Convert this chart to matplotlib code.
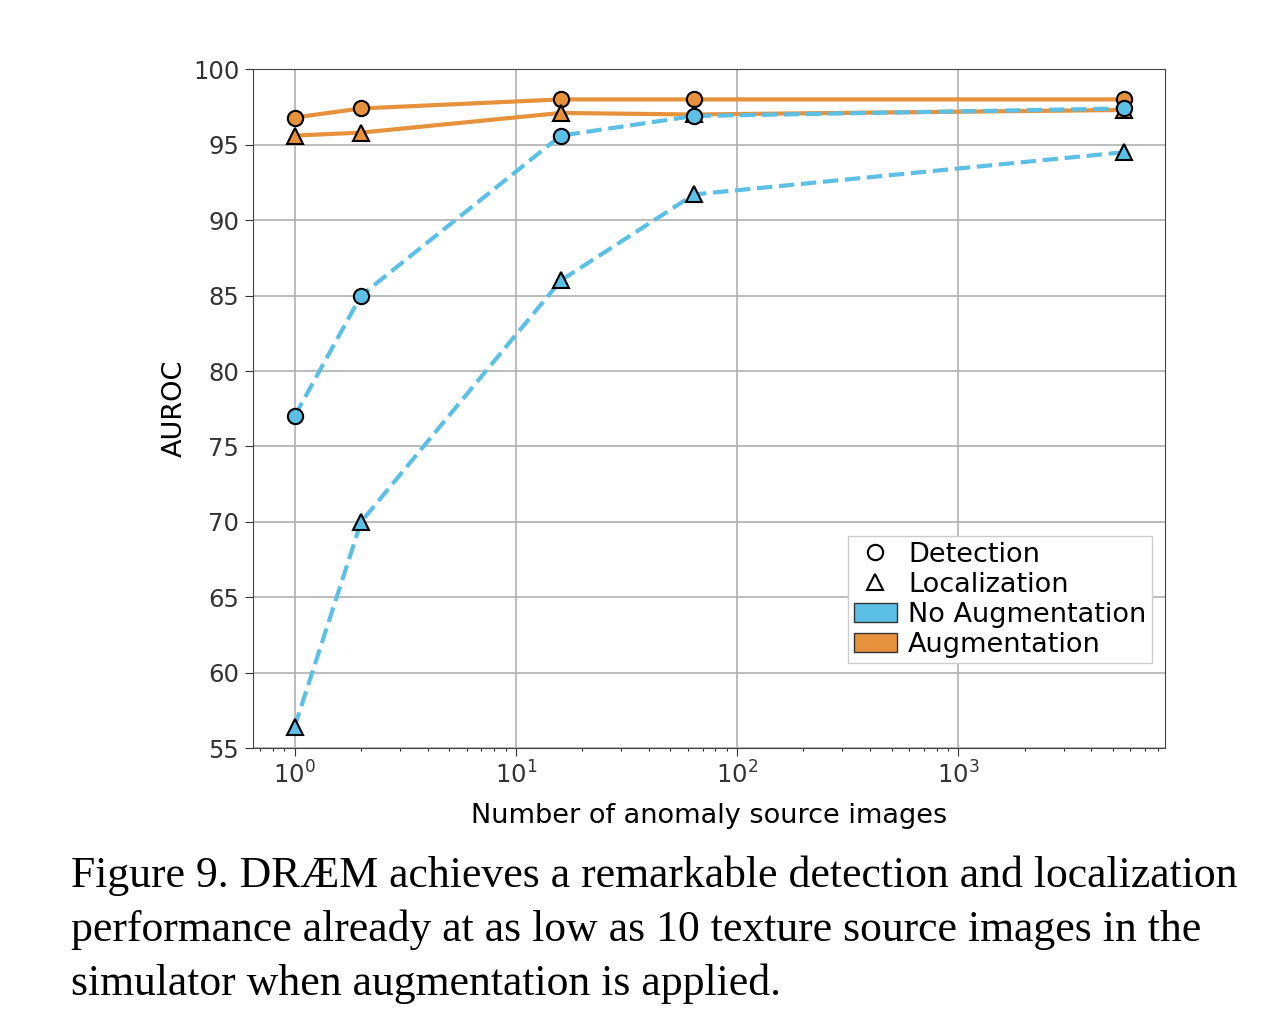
import numpy as np
import matplotlib.pyplot as plt
from matplotlib.lines import Line2D
from matplotlib.patches import Patch

n_images = [1, 2, 16, 64, 5640]
det_noaug = [77.0, 85.0, 95.6, 96.9, 97.4]
loc_noaug = [56.4, 70.0, 86.0, 91.7, 94.5]
det_aug = [96.8, 97.4, 98.0, 98.0, 98.0]
loc_aug = [95.6, 95.8, 97.1, 97.0, 97.3]

blue = '#5bbfe6'
orange = '#e6913c'

fig = plt.figure(figsize=(12.82, 10.18), dpi=100)
ax = fig.add_axes([0.197, 0.265, 0.712, 0.667])

ax.plot(n_images, det_aug, '-', color=orange, lw=3, marker='o', ms=11, mfc=orange, mec='black', mew=1.5, zorder=3)
ax.plot(n_images, loc_aug, '-', color=orange, lw=3, marker='^', ms=11, mfc=orange, mec='black', mew=1.5, zorder=3)
ax.plot(n_images, det_noaug, '--', color=blue, lw=3, marker='o', ms=11, mfc=blue, mec='black', mew=1.5, zorder=4)
ax.plot(n_images, loc_noaug, '--', color=blue, lw=3, marker='^', ms=11, mfc=blue, mec='black', mew=1.5, zorder=4)

ax.set_xscale('log')
ax.set_xlim(0.646, 8650)
ax.set_ylim(55, 100)
ax.set_yticks(np.arange(55, 101, 5))
ax.grid(True, color='#b0b0b0', lw=1.2)
ax.set_axisbelow(True)
ax.tick_params(labelsize=17.5, colors='#333333', labelcolor='#333333')
ax.tick_params(which='major', length=6)
ax.set_xlabel('Number of anomaly source images', fontsize=19.5, labelpad=10)
ax.set_ylabel('AUROC', fontsize=19.5)
for s in ax.spines.values():
    s.set_color('#444444')

handles = [
    Line2D([], [], ls='none', marker='o', ms=11, mfc='white', mec='black', mew=1.5),
    Line2D([], [], ls='none', marker='^', ms=11, mfc='white', mec='black', mew=1.5),
    Patch(facecolor=blue, edgecolor='#333333'),
    Patch(facecolor=orange, edgecolor='#333333'),
]
labels = ['Detection', 'Localization', 'No Augmentation', 'Augmentation']
ax.legend(handles, labels, loc='lower right', bbox_to_anchor=(0.985, 0.125), fontsize=19.5,
          fancybox=False, edgecolor='#cccccc', framealpha=1, handlelength=1.6,
          handletextpad=0.4, borderaxespad=0, borderpad=0.2, labelspacing=0.15)

fig.text(0.055, 0.129, 'Figure 9. DRÆM achieves a remarkable detection and localization',
         fontsize=31.5, family='Liberation Serif', ha='left')
fig.text(0.055, 0.076, 'performance already at as low as 10 texture source images in the',
         fontsize=31.5, family='Liberation Serif', ha='left')
fig.text(0.055, 0.023, 'simulator when augmentation is applied.',
         fontsize=31.5, family='Liberation Serif', ha='left')

fig.savefig('out.png', dpi=100)
